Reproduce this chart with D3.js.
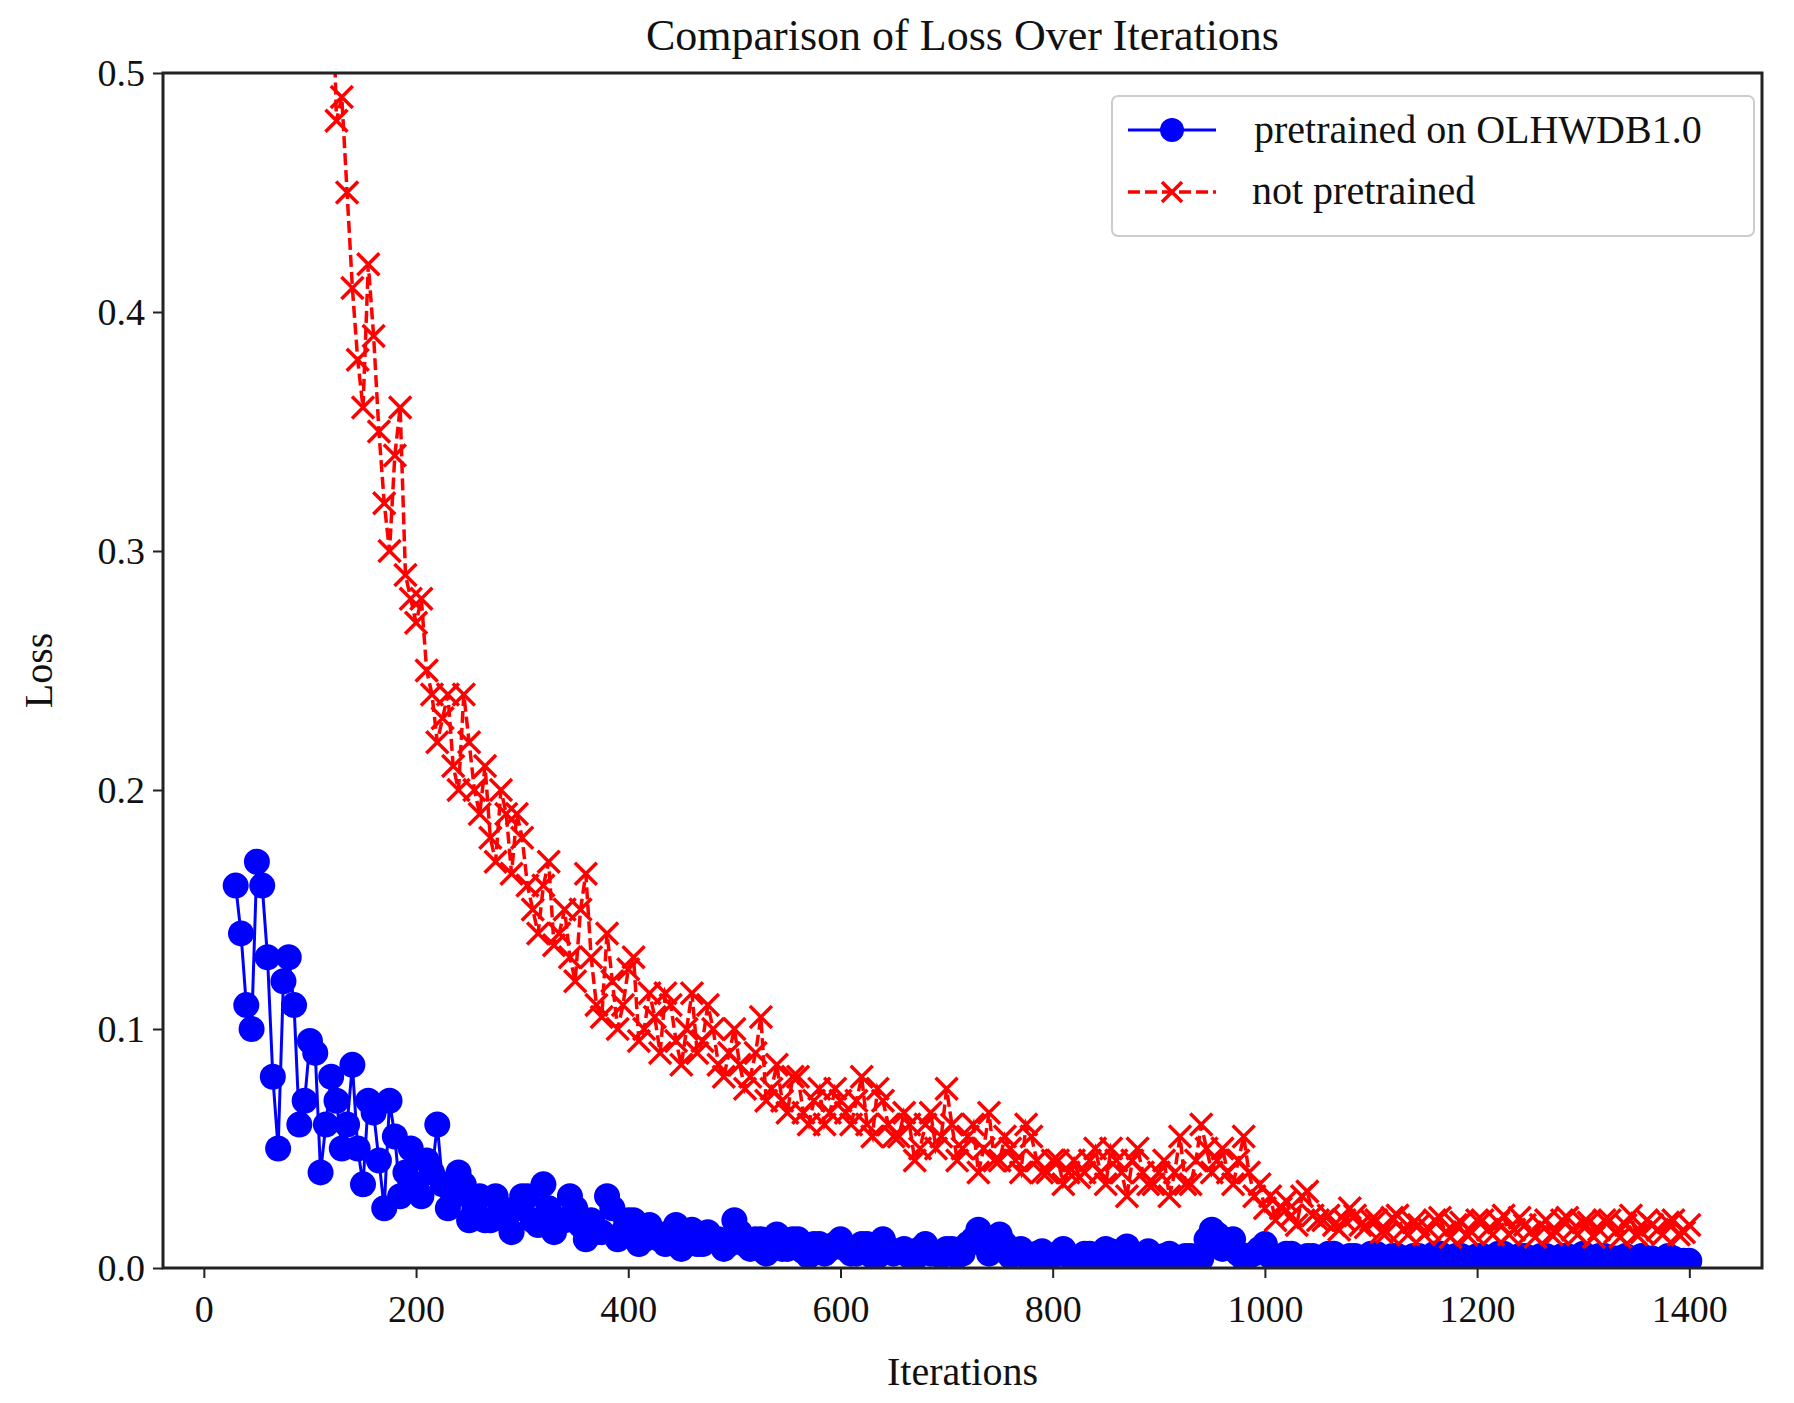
<!DOCTYPE html>
<html>
<head>
<script src="https://d3js.org/d3.v7.min.js"></script>
<style>body{margin:0;background:#fff;} text{font-family:"Liberation Serif","DejaVu Serif",serif;}</style>
</head>
<body>
<div id="chart"></div>
<script>
// blue: pretrained on OLHWDB1.0, logged every 5 iterations (read in two interleaved passes)
var blueX = d3.range(30, 1401, 10);
var blueY = [0.16,0.11,0.17,0.13,0.05,0.13,0.06,0.095,0.04,0.08,0.05,0.085,0.035,0.065,0.025,0.055,0.04,0.035,0.045,0.06,
  0.025,0.04,0.02,0.03,0.02,0.025,0.015,0.03,0.02,0.035,0.015,0.02,0.025,0.012,0.015,0.03,0.012,0.02,0.01,0.018,
  0.012,0.015,0.008,0.016,0.01,0.012,0.008,0.02,0.01,0.012,0.006,0.014,0.008,0.012,0.005,0.01,0.008,0.012,0.006,0.01,
  0.005,0.012,0.006,0.008,0.004,0.01,0.006,0.008,0.005,0.01,0.016,0.006,0.014,0.005,0.008,0.004,0.007,0.005,0.008,0.004,
  0.006,0.005,0.008,0.004,0.009,0.005,0.007,0.004,0.006,0.003,0.005,0.004,0.016,0.008,0.012,0.004,0.006,0.01,0.004,0.006,
  0.003,0.005,0.004,0.006,0.003,0.005,0.004,0.006,0.003,0.005,0.004,0.005,0.003,0.006,0.004,0.005,0.003,0.005,0.004,0.006,
  0.003,0.005,0.004,0.005,0.003,0.005,0.004,0.006,0.003,0.005,0.004,0.005,0.003,0.004,0.003,0.005,0.003,0.003];
var blueX2 = d3.range(35, 1396, 10);
var blueY2 = [0.14,0.1,0.16,0.08,0.12,0.11,0.07,0.09,0.06,0.07,0.06,0.05,0.07,0.045,0.07,0.03,0.05,0.03,0.04,0.035,
  0.03,0.035,0.025,0.02,0.03,0.02,0.025,0.03,0.018,0.025,0.02,0.03,0.018,0.02,0.015,0.025,0.015,0.02,0.012,0.015,
  0.01,0.018,0.012,0.01,0.015,0.012,0.01,0.015,0.008,0.012,0.01,0.008,0.012,0.007,0.01,0.006,0.01,0.008,0.006,0.01,
  0.005,0.008,0.007,0.005,0.008,0.006,0.005,0.008,0.006,0.012,0.01,0.008,0.01,0.006,0.005,0.006,0.004,0.006,0.005,0.004,
  0.006,0.005,0.007,0.004,0.006,0.005,0.004,0.005,0.004,0.005,0.004,0.012,0.014,0.01,0.006,0.005,0.008,
  0.005,0.004,0.006,0.003,0.005,0.004,0.006,0.004,0.005,0.003,0.006,0.004,0.005,0.003,0.005,0.004,0.006,0.003,0.005,0.004,
  0.005,0.003,0.006,0.004,0.005,0.003,0.005,0.004,0.005,0.003,0.004,0.005,0.003,0.004,0.003,0.005,0.004,0.003,0.004,0.003];
// red: not pretrained
var redX = d3.range(120, 1401, 10);
var redY = [0.56,0.49,0.41,0.36,0.39,0.32,0.34,0.29,0.27,0.25,0.22,0.24,0.2,0.22,0.19,0.18,0.2,0.165,0.18,0.15,
  0.16,0.135,0.15,0.12,0.165,0.11,0.14,0.1,0.125,0.095,0.115,0.09,0.11,0.085,0.115,0.095,0.1,0.08,0.1,0.075,
  0.09,0.07,0.085,0.065,0.08,0.06,0.075,0.065,0.07,0.06,0.08,0.055,0.07,0.055,0.065,0.045,0.06,0.05,0.075,0.045,
  0.055,0.04,0.065,0.045,0.05,0.04,0.055,0.04,0.045,0.035,0.045,0.04,0.05,0.035,0.045,0.03,0.05,0.035,0.04,0.03,
  0.055,0.035,0.06,0.04,0.05,0.035,0.055,0.03,0.025,0.02,0.028,0.018,0.032,0.02,0.022,0.016,0.025,0.018,0.02,0.015,
  0.021,0.016,0.019,0.014,0.02,0.015,0.018,0.014,0.02,0.016,0.019,0.014,0.021,0.015,0.018,0.014,0.02,0.016,0.019,0.013,
  0.02,0.015,0.018,0.014,0.02,0.016,0.019,0.014,0.018];
var redX2 = d3.range(125, 1396, 10);
var redY2 = [0.48,0.45,0.38,0.42,0.35,0.3,0.36,0.28,0.28,0.24,0.23,0.21,0.24,0.2,0.21,0.17,0.19,0.19,0.16,0.14,
  0.17,0.14,0.13,0.15,0.13,0.105,0.12,0.11,0.13,0.1,0.105,0.115,0.095,0.1,0.09,0.11,0.085,0.09,0.085,0.08,
  0.105,0.075,0.07,0.08,0.065,0.07,0.06,0.075,0.065,0.07,0.06,0.075,0.06,0.055,0.06,0.05,0.065,0.055,0.06,0.05,
  0.06,0.05,0.045,0.055,0.045,0.06,0.045,0.04,0.045,0.04,0.038,0.045,0.04,0.05,0.04,0.045,0.04,0.035,0.045,0.04,
  0.035,0.045,0.05,0.045,0.04,0.045,0.04,0.035,0.03,0.025,0.022,0.03,0.022,0.02,0.018,0.02,0.022,0.017,
  0.02,0.015,0.022,0.014,0.018,0.016,0.021,0.013,0.019,0.015,0.02,0.014,0.022,0.016,0.018,0.013,0.02,0.015,0.021,0.014,
  0.019,0.016,0.02,0.013,0.022,0.015,0.018,0.014,0.02,0.015];
var xTicks = [0,200,400,600,800,1000,1200,1400];
var yTicks = [0.0,0.1,0.2,0.3,0.4,0.5];

var W = 1794, H = 1403;
var L = 163, R = 1762, T = 73, B = 1268;
var svg = d3.select("#chart").append("svg").attr("width", W).attr("height", H);

var x = d3.scaleLinear().domain([-38.5, 1468.5]).range([L, R]);
var y = d3.scaleLinear().domain([0, 0.5]).range([B, T]);

svg.append("clipPath").attr("id", "clip").append("rect")
  .attr("x", L).attr("y", T).attr("width", R - L).attr("height", B - T);

var plot = svg.append("g").attr("clip-path", "url(#clip)");
var line = d3.line().x(function(d){ return x(d[0]); }).y(function(d){ return y(d[1]); });

function merge(xa, ya, xb, yb) {
  var pts = xa.map(function(v, i){ return [v, ya[i]]; })
    .concat(xb.map(function(v, i){ return [v, yb[i]]; }));
  return pts.sort(function(a, b){ return a[0] - b[0]; });
}
var blue = merge(blueX, blueY, blueX2, blueY2);
var red = merge(redX, redY, redX2, redY2);

plot.append("path").datum(blue).attr("d", line).attr("fill", "none")
  .attr("stroke", "#0000ff").attr("stroke-width", 3);
plot.selectAll(".dot").data(blue).enter().append("circle")
  .attr("cx", function(d){ return x(d[0]); }).attr("cy", function(d){ return y(d[1]); })
  .attr("r", 13).attr("fill", "#0000ff");

plot.append("path").datum(red).attr("d", line).attr("fill", "none")
  .attr("stroke", "#ff0000").attr("stroke-width", 3.5).attr("stroke-dasharray", "12,5");
var xs = 11;
plot.selectAll(".xm").data(red).enter().append("path")
  .attr("transform", function(d){ return "translate(" + x(d[0]) + "," + y(d[1]) + ")"; })
  .attr("d", "M" + -xs + "," + -xs + "L" + xs + "," + xs + "M" + -xs + "," + xs + "L" + xs + "," + -xs)
  .attr("stroke", "#ff0000").attr("stroke-width", 3.5);

// frame
svg.append("rect").attr("x", L).attr("y", T).attr("width", R - L).attr("height", B - T)
  .attr("fill", "none").attr("stroke", "#222").attr("stroke-width", 3);

var xa = svg.append("g").attr("transform", "translate(0," + B + ")")
  .call(d3.axisBottom(x).tickValues(xTicks).tickSize(10).tickPadding(10).tickFormat(d3.format("d")));
var ya = svg.append("g").attr("transform", "translate(" + L + ",0)")
  .call(d3.axisLeft(y).tickValues(yTicks).tickSize(10).tickPadding(8).tickFormat(d3.format(".1f")));
[xa, ya].forEach(function(a){
  a.select(".domain").remove();
  a.selectAll("line").attr("stroke", "#222").attr("stroke-width", 2);
  a.selectAll("text").attr("font-size", 38).attr("fill", "#111")
    .style("font-family", "'Liberation Serif', serif");
});
xa.selectAll("text").attr("dy", "0.9em");

svg.append("text").attr("x", (L + R) / 2).attr("y", 50).attr("text-anchor", "middle")
  .attr("font-size", 44).attr("fill", "#111").text("Comparison of Loss Over Iterations");
svg.append("text").attr("x", (L + R) / 2).attr("y", 1385).attr("text-anchor", "middle")
  .attr("font-size", 40).attr("fill", "#111").text("Iterations");
svg.append("text").attr("transform", "translate(52," + (T + B) / 2 + ") rotate(-90)")
  .attr("text-anchor", "middle").attr("font-size", 40).attr("fill", "#111").text("Loss");

// legend
var lg = svg.append("g").attr("transform", "translate(1112,96)");
lg.append("rect").attr("width", 642).attr("height", 140).attr("rx", 6)
  .attr("fill", "#fff").attr("stroke", "#ccc").attr("stroke-width", 2);
lg.append("line").attr("x1", 16).attr("x2", 104).attr("y1", 34).attr("y2", 34)
  .attr("stroke", "#0000ff").attr("stroke-width", 3);
lg.append("circle").attr("cx", 60).attr("cy", 34).attr("r", 12).attr("fill", "#0000ff");
lg.append("line").attr("x1", 16).attr("x2", 104).attr("y1", 96).attr("y2", 96)
  .attr("stroke", "#ff0000").attr("stroke-width", 3.5).attr("stroke-dasharray", "12,5");
lg.append("path").attr("transform", "translate(60,96)")
  .attr("d", "M-10,-10L10,10M-10,10L10,-10").attr("stroke", "#ff0000").attr("stroke-width", 3.5);
lg.append("text").attr("x", 142).attr("y", 47).attr("font-size", 40).attr("fill", "#111").text("pretrained on OLHWDB1.0");
lg.append("text").attr("x", 140).attr("y", 108).attr("font-size", 40).attr("fill", "#111").text("not pretrained");
</script>
</body>
</html>
